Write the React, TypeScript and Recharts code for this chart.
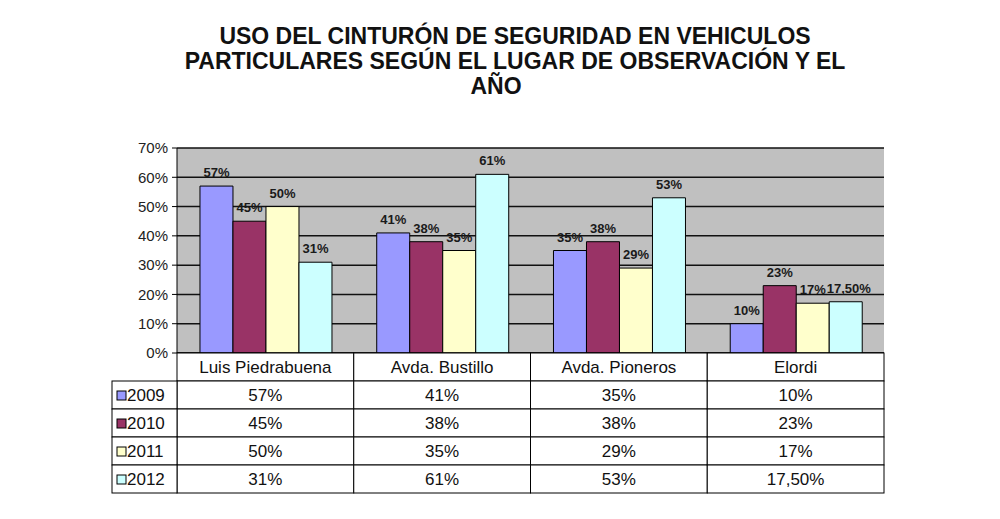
import { Bar, BarChart, CartesianGrid, LabelList, XAxis, YAxis } from "recharts"

// Observation points and the four survey years
const CATEGORIES = ["Luis Piedrabuena", "Avda. Bustillo", "Avda. Pioneros", "Elordi"]
const YEARS = ["2009", "2010", "2011", "2012"]

const VALUES_2009 = [57, 41, 35, 10]
const VALUES_2010 = [45, 38, 38, 23]
const VALUES_2011 = [50, 35, 29, 17]
const VALUES_2012 = [31, 61, 53, 17.5]

const Y_TICKS = [0, 10, 20, 30, 40, 50, 60, 70]

const TITLE_LINES = [
	"USO DEL CINTURÓN DE SEGURIDAD EN VEHICULOS",
	"PARTICULARES SEGÚN EL LUGAR DE OBSERVACIÓN Y EL",
	"AÑO",
]

const SERIES = [
	{ key: "y2009", year: YEARS[0], values: VALUES_2009, color: "#9999FF" },
	{ key: "y2010", year: YEARS[1], values: VALUES_2010, color: "#993366" },
	{ key: "y2011", year: YEARS[2], values: VALUES_2011, color: "#FFFFCC" },
	{ key: "y2012", year: YEARS[3], values: VALUES_2012, color: "#CCFFFF" },
]

const data = CATEGORIES.map((name, i) => {
	const row: Record<string, string | number> = { name }
	for (const s of SERIES) row[s.key] = s.values[i]
	return row
})

const W = 1000
const H = 519
const PLOT_LEFT = 177
const PLOT_RIGHT = 884
const PLOT_TOP = 148
const PLOT_BOTTOM = 353
const BAND = (PLOT_RIGHT - PLOT_LEFT) / CATEGORIES.length
const ROW_H = 28
const LEGEND_LEFT = 112
const FONT = '"Liberation Sans", Arial, sans-serif'

const pct = (v: number) => (Number.isInteger(v) ? `${v}%` : `${v.toFixed(2).replace(".", ",")}%`)

// Bold value above a bar; the long "17,50%" label is nudged right so it
// doesn't run into its neighbour.
function BarValueLabel(props: any) {
	const { x, y, width, value } = props
	const v = Number(value)
	const nudge = Number.isInteger(v) ? 0 : 3
	return (
		<text
			x={x + width / 2 + nudge}
			y={y - 9}
			textAnchor="middle"
			fontSize={13}
			fontWeight="bold"
			fill="#1a1a1a"
			fontFamily={FONT}
		>
			{pct(v)}
		</text>
	)
}

// Each x-axis tick draws its own column of the data table underneath the plot;
// the first tick also draws the legend column on the left.
function TableColumn(props: any) {
	const { x, index, payload } = props
	const left = x - BAND / 2
	const top = PLOT_BOTTOM
	const cells = []
	cells.push(
		<g key="head">
			<rect x={left} y={top} width={BAND} height={ROW_H} fill="#fff" stroke="#000" />
			<text x={x} y={top + ROW_H / 2 + 6} textAnchor="middle" fontSize={17} fill="#111" fontFamily={FONT}>
				{payload.value}
			</text>
		</g>,
	)
	SERIES.forEach((s, r) => {
		const y = top + ROW_H * (r + 1)
		cells.push(
			<g key={s.key}>
				<rect x={left} y={y} width={BAND} height={ROW_H} fill="#fff" stroke="#000" />
				<text x={x} y={y + ROW_H / 2 + 6} textAnchor="middle" fontSize={17} fill="#111" fontFamily={FONT}>
					{pct(s.values[index])}
				</text>
			</g>,
		)
		if (index === 0) {
			cells.push(
				<g key={`legend-${s.key}`}>
					<rect x={LEGEND_LEFT} y={y} width={left - LEGEND_LEFT} height={ROW_H} fill="#fff" stroke="#000" />
					<rect x={LEGEND_LEFT + 5} y={y + ROW_H / 2 - 4} width={9} height={9} fill={s.color} stroke="#000" />
					<text x={LEGEND_LEFT + 15} y={y + ROW_H / 2 + 6} fontSize={17} fill="#111" fontFamily={FONT}>
						{s.year}
					</text>
				</g>,
			)
		}
	})
	return <g>{cells}</g>
}

export default function App() {
	return (
		<div style={{ position: "absolute", left: 0, top: 0, width: W, height: H, background: "#fff" }}>
			<div
				style={{
					position: "absolute",
					left: 0,
					top: 24,
					width: 1030,
					textAlign: "center",
					fontFamily: FONT,
					fontWeight: "bold",
					fontSize: 23,
					lineHeight: "25px",
					color: "#111",
				}}
			>
				{TITLE_LINES.map((line, i) => (
					<div key={line} style={i === TITLE_LINES.length - 1 ? { paddingRight: 38 } : undefined}>
						{line}
					</div>
				))}
			</div>
			<BarChart
				width={W}
				height={H}
				data={data}
				margin={{ top: PLOT_TOP, right: W - PLOT_RIGHT, left: 0, bottom: 0 }}
				barCategoryGap="13%"
				barGap={0}
				style={{ position: "absolute", left: 0, top: 0 }}
			>
				<CartesianGrid vertical={false} fill="#C0C0C0" stroke="#111" strokeWidth={1.5} />
				<XAxis
					dataKey="name"
					height={H - PLOT_BOTTOM}
					axisLine={{ stroke: "#000" }}
					tickLine={false}
					interval={0}
					tick={(p: any) => <TableColumn {...p} />}
				/>
				<YAxis
					width={PLOT_LEFT}
					domain={[0, 70]}
					ticks={Y_TICKS}
					tickFormatter={(v: number) => `${v}%`}
					axisLine={{ stroke: "#000" }}
					tickLine={{ stroke: "#000" }}
					tickSize={5}
					tickMargin={4}
					tick={{ fontSize: 15, fill: "#222", fontFamily: FONT }}
				/>
				{SERIES.map((s) => (
					<Bar key={s.key} dataKey={s.key} fill={s.color} stroke="#000" strokeWidth={1} isAnimationActive={false}>
						<LabelList dataKey={s.key} content={(p: any) => <BarValueLabel {...p} />} />
					</Bar>
				))}
			</BarChart>
		</div>
	)
}
